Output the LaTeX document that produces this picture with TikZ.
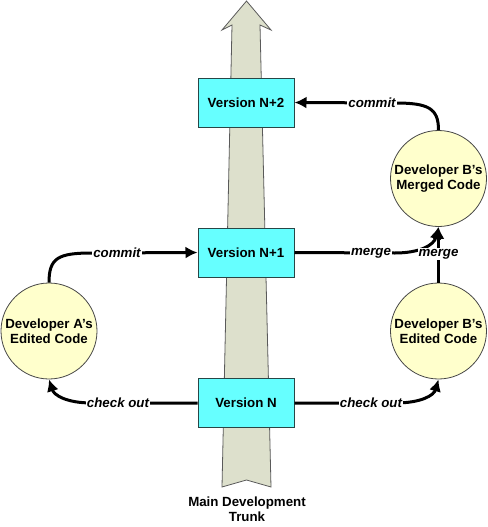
\documentclass[tikz,border=0pt]{standalone}
\usepackage{fontspec}
\setmainfont{Liberation Sans}
\usetikzlibrary{arrows.meta}
\definecolor{boxfill}{RGB}{102,255,255}
\definecolor{boxline}{RGB}{40,70,70}
\definecolor{circfill}{RGB}{255,255,204}
\definecolor{circline}{RGB}{70,70,70}
\definecolor{trunkfill}{RGB}{221,224,204}
\definecolor{trunkline}{RGB}{90,90,90}
\tikzset{
  verbox/.style={draw=boxline, fill=boxfill, line width=1pt, minimum width=96pt, minimum height=49pt, inner sep=0pt, font=\fontsize{13.3}{15}\selectfont\bfseries},
  devcirc/.style={circle, draw=circline, fill=circfill, line width=0.8pt, minimum size=96pt, inner sep=0pt, align=center, font=\fontsize{13.3}{15}\selectfont\bfseries},
  conn/.style={draw=black, line width=3pt, -{Latex[length=12pt,width=12pt]}},
  lbl/.style={fill=white, inner sep=1pt, font=\fontsize{13.3}{15}\selectfont\bfseries\itshape},
  trunklbl/.style={align=center, font=\fontsize{13.3}{15}\selectfont\bfseries}
}
\begin{document}
\begin{tikzpicture}[x=1pt,y=-1pt]
\useasboundingbox (0,0) rectangle (487,527);
% trunk arrow
\draw[fill=trunkfill, draw=trunkline, line width=0.8pt]
  (246.5,1) -- (271,30) -- (260,25) -- (271,487) -- (246.5,480) -- (222,487) -- (232,25) -- (222,30) -- cycle;
% version boxes
\node[verbox] (vN2) at (246,102.5) {Version N+2};
\node[verbox] (vN1) at (246,252.5) {Version N+1};
\node[verbox] (vN)  at (246,403) {Version N};
% developer circles
\node[devcirc] (dA)  at (49,331)    {Developer A’s\\Edited Code};
\node[devcirc] (dBe) at (438.5,331) {Developer B’s\\Edited Code};
\node[devcirc] (dBm) at (438.5,178.5) {Developer B’s\\Merged Code};
% connectors
\draw[conn] (vN.west) -- (92,403) .. controls (66,403) and (54,395) .. (dA.south);
\draw[conn] (dA.north) .. controls (49,258) and (58,253) .. (92,253) -- (vN1.west);
\draw[conn] (vN1.east) -- (395,253) .. controls (420,253) and (434,245) .. (dBm.south);
\draw[conn] (dBe.north) -- (dBm.south);
\draw[conn] (vN.east) -- (395,403) .. controls (422,403) and (434,395) .. (dBe.south);
\draw[conn] (dBm.north) .. controls (438.5,108) and (428,103) .. (395,103) -- (vN2.east);
% labels
\node[lbl] (l1) at (118,403) {check out};
\node[lbl] (l2) at (117,253) {commit};
\node[lbl] (l3) at (371,253) {merge};
\node[lbl] (l4) at (438.5,254) {merge};
\node[lbl] (l5) at (371,403) {check out};
\node[lbl] (l6) at (372,103) {commit};
\node[trunklbl] (tl) at (247,509) {Main Development\\Trunk};
\end{tikzpicture}
\end{document}
